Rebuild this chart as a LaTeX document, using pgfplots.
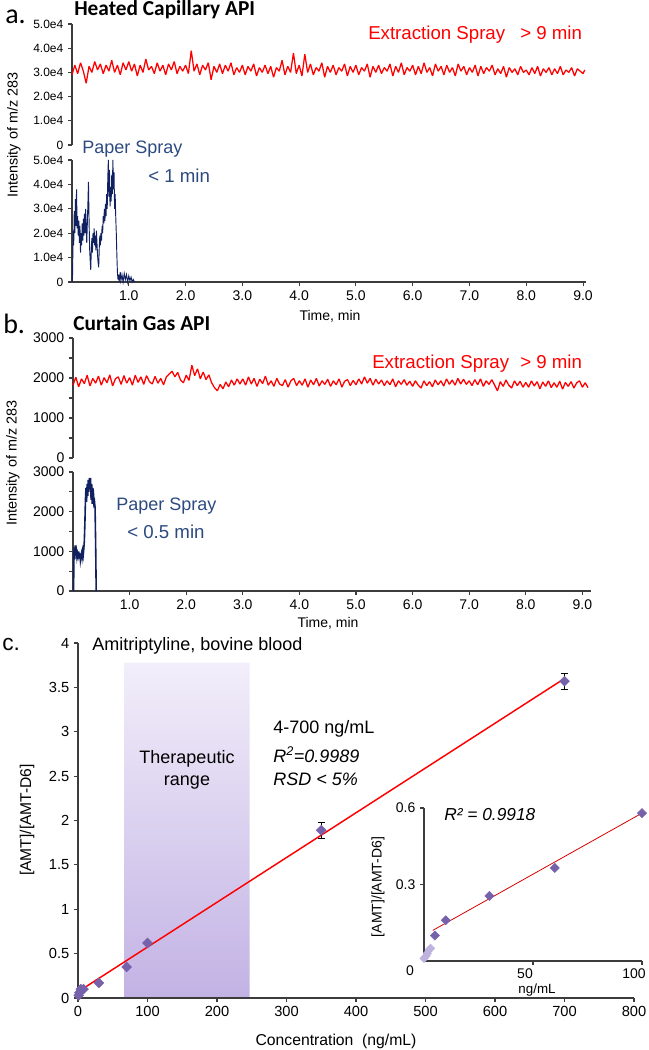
\documentclass[border=0pt]{standalone}
\usepackage{pgfplots}
\pgfplotsset{compat=1.18}
\usepackage{fontspec}
\setmainfont{Liberation Sans}
\newfontfamily\calibri{Carlito}
\definecolor{spred}{RGB}{255,0,0}
\definecolor{navy}{RGB}{16,32,96}
\definecolor{psblue}{RGB}{44,74,128}
\definecolor{dia}{RGB}{118,98,170}
\definecolor{dialight}{RGB}{192,178,222}
\definecolor{bandtop}{RGB}{242,238,250}
\definecolor{bandbot}{RGB}{194,178,228}
\definecolor{axgray}{RGB}{60,60,60}
\newcommand\fs[1]{\fontsize{#1}{#1}\selectfont}

\pgfplotsset{
  base/.style={
    scale only axis, anchor=south west, clip=false,
    axis line style={axgray, line width=0.8pt},
    tick style={axgray, line width=0.8pt},
    major tick length=3pt, minor tick length=3pt, tick align=outside,
    /pgf/number format/assume math mode=true,
    ticklabel style={font=\fs{10.5}},
  },
  trace/.style={base, xmin=0, ymin=0,
    xtick={1,2,3,4,5,6,7,8,9},
    xticklabels={1.0,2.0,3.0,4.0,5.0,6.0,7.0,8.0,9.0},
  },
}

\begin{document}
\begin{tikzpicture}
\useasboundingbox (0,0) rectangle (486.75pt,-787.5pt);

% ---------- a. heated capillary ----------
\begin{axis}[trace, at={(54pt,-108.75pt)}, width=385.4pt, height=90.75pt,
  xmax=9.05, ymax=5, axis x line=none, axis y line*=left,
  ytick={0,1,2,3,4,5}, yticklabels={0,1.0e4,2.0e4,3.0e4,4.0e4,5.0e4},
  yticklabel style={font=\fs{9}}]
\addplot[spred, line width=0.95pt, line join=bevel] coordinates {
(0,2.90)(0.05,3.30)(0.1,2.95)(0.15,3.40)(0.2,3.05)(0.25,2.55)(0.3,3.25)(0.35,3.00)(0.4,3.45)(0.45,3.10)
(0.5,3.35)(0.55,2.95)(0.6,3.30)(0.65,3.05)(0.7,3.50)(0.75,3.00)(0.8,3.30)(0.85,2.90)(0.9,3.40)(0.95,3.10)
(1,3.45)(1.05,3.05)(1.1,3.35)(1.15,2.85)(1.2,3.30)(1.25,3.00)(1.3,3.55)(1.35,3.10)(1.4,3.25)(1.45,2.95)
(1.5,3.40)(1.55,3.05)(1.6,3.30)(1.65,2.90)(1.7,3.35)(1.75,3.10)(1.8,3.45)(1.85,2.95)(1.9,3.25)(1.95,3.05)
(2,3.30)(2.05,2.95)(2.1,3.90)(2.15,3.05)(2.2,3.35)(2.25,2.90)(2.3,3.30)(2.35,3.10)(2.4,3.40)(2.45,2.70)
(2.5,3.25)(2.55,3.00)(2.6,3.35)(2.65,2.95)(2.7,3.30)(2.75,3.05)(2.8,3.40)(2.85,2.90)(2.9,3.20)(2.95,3.00)
(3,3.30)(3.05,2.90)(3.1,3.25)(3.15,3.05)(3.2,3.35)(3.25,2.85)(3.3,3.20)(3.35,3.00)(3.4,3.30)(3.45,2.95)
(3.5,3.25)(3.55,2.80)(3.6,3.20)(3.65,3.05)(3.7,3.50)(3.75,2.90)(3.8,3.25)(3.85,3.00)(3.9,3.80)(3.95,2.95)
(4,3.30)(4.05,2.85)(4.1,3.75)(4.15,3.00)(4.2,3.35)(4.25,2.90)(4.3,3.20)(4.35,3.05)(4.4,3.40)(4.45,2.80)
(4.5,3.25)(4.55,3.00)(4.6,3.30)(4.65,2.90)(4.7,3.20)(4.75,3.05)(4.8,3.35)(4.85,2.85)(4.9,3.25)(4.95,3.00)
(5,3.30)(5.05,2.90)(5.1,3.20)(5.15,3.05)(5.2,3.35)(5.25,2.80)(5.3,3.25)(5.35,3.00)(5.4,3.30)(5.45,2.95)
(5.5,3.20)(5.55,3.05)(5.6,3.35)(5.65,2.85)(5.7,3.25)(5.75,3.00)(5.8,3.40)(5.85,2.90)(5.9,3.20)(5.95,3.05)
(6,3.30)(6.05,2.90)(6.1,3.25)(6.15,2.95)(6.2,3.40)(6.25,3.00)(6.3,3.20)(6.35,2.85)(6.4,3.35)(6.45,3.05)
(6.5,3.25)(6.55,2.90)(6.6,3.30)(6.65,3.00)(6.7,3.20)(6.75,2.85)(6.8,3.35)(6.85,3.05)(6.9,3.25)(6.95,2.90)
(7,3.20)(7.05,3.00)(7.1,3.30)(7.15,2.85)(7.2,3.25)(7.25,2.95)(7.3,3.20)(7.35,3.05)(7.4,3.30)(7.45,2.90)
(7.5,3.15)(7.55,2.95)(7.6,3.25)(7.65,2.80)(7.7,3.20)(7.75,3.00)(7.8,3.15)(7.85,2.90)(7.9,3.25)(7.95,3.00)
(8,3.10)(8.05,2.90)(8.1,3.20)(8.15,2.95)(8.2,3.25)(8.25,2.85)(8.3,3.15)(8.35,3.00)(8.4,3.20)(8.45,2.90)
(8.5,3.15)(8.55,2.95)(8.6,3.25)(8.65,2.90)(8.7,3.10)(8.75,3.00)(8.8,3.20)(8.85,2.85)(8.9,3.15)(8.95,3.05)
(9,2.95)(9.03,3.10)
};
\end{axis}

\begin{axis}[trace, at={(54pt,-211.5pt)}, width=385.4pt, height=91.5pt,
  xmax=9.05, ymax=5, axis x line*=bottom, axis y line*=left,
  ytick={0,1,2,3,4,5}, yticklabels={0,1.0e4,2.0e4,3.0e4,4.0e4,5.0e4},
  yticklabel style={font=\fs{9}}]
\addplot[navy, line width=0.7pt] coordinates {
(0,0)(0.01,0.3)(0.02,2.1)(0.03,1.5)(0.04,2.9)(0.05,2.0)(0.06,3.4)(0.07,2.3)(0.08,3.8)(0.09,2.2)
(0.10,2.7)(0.11,1.9)(0.12,2.5)(0.13,1.6)(0.14,2.3)(0.15,1.2)(0.16,2.0)(0.17,1.5)(0.18,2.4)(0.19,1.7)
(0.20,2.6)(0.21,1.9)(0.22,2.8)(0.23,2.0)(0.24,3.0)(0.25,2.2)(0.26,1.6)(0.27,2.4)(0.28,3.2)(0.29,4.1)
(0.30,2.6)(0.31,1.4)(0.32,0.9)(0.33,0.5)(0.34,1.3)(0.35,1.8)(0.36,1.2)(0.37,2.0)(0.38,1.6)(0.39,2.2)
(0.40,1.5)(0.41,1.9)(0.42,1.3)(0.43,2.1)(0.44,1.6)(0.45,1.1)(0.46,0.8)(0.47,0.6)(0.48,1.4)(0.49,1.9)
(0.50,1.5)(0.51,2.0)(0.52,1.7)(0.53,2.3)(0.54,2.0)(0.55,2.7)(0.56,2.4)(0.57,3.0)(0.58,2.5)(0.59,3.2)
(0.60,2.7)(0.61,3.6)(0.62,3.0)(0.63,4.2)(0.64,5.0)(0.65,3.5)(0.66,4.6)(0.67,3.1)(0.68,3.9)(0.69,3.3)
(0.70,4.4)(0.71,3.6)(0.72,5.0)(0.73,3.8)(0.74,4.5)(0.75,3.0)(0.76,3.6)(0.77,2.7)(0.78,2.0)(0.79,1.1)
(0.80,0.4)(0.81,0.1)(0.82,0.3)(0.83,0.0)(0.84,0.2)(0.85,0.4)(0.86,0.05)(0.88,0.3)(0.90,0.0)(0.92,0.35)
(0.94,0.1)(0.96,0.3)(0.98,0.0)(1.00,0.25)(1.02,0.05)(1.04,0.2)(1.06,0.0)(1.08,0.1)(1.10,0.0)
};
\end{axis}

% ---------- b. curtain gas ----------
\begin{axis}[trace, at={(54.75pt,-343.5pt)}, width=388.4pt, height=90pt,
  xmax=9.15, ymax=3000, axis x line=none, axis y line*=left,
  ytick={0,1000,2000,3000}, yticklabels={0,1000,2000,3000},
  minor ytick={500,1500,2500}]
\addplot[spred, line width=0.95pt, line join=bevel] coordinates {
(0,1820)(0.05,2020)(0.1,1780)(0.15,1980)(0.2,1860)(0.25,2070)(0.3,1800)(0.35,1990)(0.4,1870)(0.45,2050)
(0.5,1820)(0.55,2010)(0.6,1880)(0.65,2080)(0.7,1800)(0.75,1980)(0.8,2030)(0.85,1840)(0.9,2060)(0.95,1870)
(1,2010)(1.05,1820)(1.1,2070)(1.15,1890)(1.2,2030)(1.25,1840)(1.3,2060)(1.35,1910)(1.4,1850)(1.45,2040)
(1.5,1870)(1.55,1990)(1.6,1830)(1.65,2030)(1.7,2100)(1.75,2170)(1.8,2030)(1.85,2140)(1.9,1950)(1.95,1880)
(2,2070)(2.05,1940)(2.1,2320)(2.15,2060)(2.2,2230)(2.25,1980)(2.3,2150)(2.35,1960)(2.4,2080)(2.45,1880)
(2.5,1760)(2.55,1680)(2.6,1840)(2.65,1730)(2.7,1900)(2.75,1780)(2.8,1950)(2.85,1820)(2.9,1980)(2.95,1850)
(3,1980)(3.05,1820)(3.1,2030)(3.15,1850)(3.2,1990)(3.25,1790)(3.3,1970)(3.35,1860)(3.4,2050)(3.45,1820)
(3.5,1930)(3.55,1790)(3.6,1990)(3.65,1850)(3.7,1810)(3.75,1960)(3.8,1770)(3.85,1930)(3.9,1990)(3.95,1810)
(4,1930)(4.05,1820)(4.1,1980)(4.15,1770)(4.2,1950)(4.25,1830)(4.3,1990)(4.35,1800)(4.4,1930)(4.45,1840)
(4.5,1970)(4.55,1790)(4.6,1930)(4.65,1830)(4.7,1980)(4.75,1770)(4.8,1920)(4.85,1960)(4.9,1810)(4.95,1940)
(5,1830)(5.05,1980)(5.1,1850)(5.15,2030)(5.2,1870)(5.25,1990)(5.3,1820)(5.35,1970)(5.4,1850)(5.45,1950)
(5.5,1810)(5.55,1930)(5.6,1830)(5.65,1980)(5.7,1780)(5.75,1930)(5.8,1840)(5.85,1960)(5.9,1820)(5.95,1920)
(6,1790)(6.05,1930)(6.1,1820)(6.15,1750)(6.2,1930)(6.25,1810)(6.3,1910)(6.35,1780)(6.4,1950)(6.45,1830)
(6.5,1930)(6.55,1800)(6.6,1980)(6.65,1840)(6.7,1950)(6.75,1820)(6.8,1990)(6.85,1850)(6.9,1970)(6.95,1840)
(7,1930)(7.05,1810)(7.1,1960)(7.15,1830)(7.2,1980)(7.25,1790)(7.3,1930)(7.35,1840)(7.4,1960)(7.45,1820)
(7.5,1680)(7.55,1910)(7.6,1790)(7.65,1950)(7.7,1820)(7.75,1750)(7.8,1930)(7.85,1810)(7.9,1920)(7.95,1770)
(8,1890)(8.05,1770)(8.1,1930)(8.15,1800)(8.2,1910)(8.25,1730)(8.3,1900)(8.35,1790)(8.4,1930)(8.45,1760)
(8.5,1880)(8.55,1770)(8.6,1920)(8.65,1720)(8.7,1890)(8.75,1790)(8.8,1910)(8.85,1750)(8.9,1880)(8.95,1930)
(9,1770)(9.05,1880)(9.1,1760)
};
\end{axis}

\begin{axis}[trace, at={(54.75pt,-443.25pt)}, width=388.4pt, height=89.25pt,
  xmax=9.15, ymax=3000, axis x line*=bottom, axis y line*=left,
  ytick={0,1000,2000,3000}, yticklabels={0,1000,2000,3000},
  minor ytick={500,1500,2500}]
\addplot[navy, line width=1.2pt] coordinates {
(0.01,0)(0.015,700)(0.02,1100)(0.03,800)(0.04,1150)(0.05,900)(0.06,1000)(0.07,850)(0.08,950)(0.09,880)
(0.10,1000)(0.11,820)(0.12,950)(0.13,780)(0.14,900)(0.15,960)(0.16,850)(0.17,1000)(0.18,900)(0.19,1050)
(0.20,1250)(0.21,1700)(0.22,2300)(0.23,2600)(0.24,2250)(0.25,2700)(0.26,2400)(0.27,2800)(0.28,2500)(0.29,2850)
(0.30,2600)(0.31,2850)(0.32,2300)(0.33,2700)(0.34,2200)(0.35,2600)(0.36,2500)(0.37,2200)(0.38,2250)(0.39,2100)
(0.40,1200)(0.41,0)
};
\end{axis}

% ---------- c. calibration ----------
\begin{axis}[base, at={(58.5pt,-748.5pt)}, width=417pt, height=266.25pt,
  xmin=0, xmax=800, ymin=0, ymax=4, axis x line*=bottom, axis y line*=left,
  axis on top,
  xtick={0,100,200,300,400,500,600,700,800},
  ytick={0,0.5,1,1.5,2,2.5,3,3.5,4},
  yticklabels={0,0.5,1,1.5,2,2.5,3,3.5,4},
  ticklabel style={font=\fs{11}}]
\addplot[draw=none, top color=bandtop, bottom color=bandbot] coordinates {
(67,0)(67,3.78)(247,3.78)(247,0)} \closedcycle;
\addplot[red, line width=1.1pt] coordinates {(0,0.07)(700,3.60)};
\addplot[only marks, mark=square*, mark size=2.6pt,
  mark options={rotate=45, fill=dia, draw=dia}] coordinates {
(1,0.03)(2,0.06)(4,0.10)(8,0.10)(30,0.17)(70,0.35)(100,0.62)};
\addplot[only marks, mark=square*, mark size=2.6pt,
  mark options={rotate=45, fill=dia, draw=dia},
  error bars/.cd, y dir=both, y explicit,
  error bar style={black, line width=0.6pt},
  error mark options={black, line width=0.6pt, mark size=2.5pt, rotate=90}] coordinates {
(350,1.89) +- (0,0.09)
(700,3.57) +- (0,0.09)};
\end{axis}

% inset
\begin{axis}[base, at={(318pt,-720.75pt)}, width=163.5pt, height=114.75pt,
  xmin=0, xmax=100, ymin=0, ymax=0.6, axis x line*=bottom, axis y line*=left,
  xtick={50,100}, xticklabels={50,100}, ytick={0.3,0.6}, yticklabels={0.3,0.6},
  xticklabel style={xshift=-6pt, yshift=1pt}]
\addplot[red!85!black, line width=0.6pt] coordinates {(4,0.12)(100,0.58)};
\addplot[only marks, mark=square*, mark size=2.2pt,
  mark options={rotate=45, fill=dialight, draw=dialight}] coordinates {
(0,0.01)(1,0.02)(1.5,0.03)(2.5,0.045)(3,0.05)};
\addplot[only marks, mark=square*, mark size=2.4pt,
  mark options={rotate=45, fill=dia, draw=dia}] coordinates {
(5,0.10)(10,0.16)(30,0.255)(60,0.365)(100,0.58)};
\end{axis}

% ---------- labels ----------
\begin{scope}[x=0.75pt, y=-0.75pt]
\node[anchor=base west, inner sep=0] at (5,23) {\calibri\fs{21}a.};
\node[anchor=base west, inner sep=0] at (74,15) {\calibri\bfseries\fs{16}Heated Capillary API};
\node[anchor=base west, inner sep=0, text=spred] at (368,39) {\fs{14}Extraction Spray};
\node[anchor=base west, inner sep=0, text=spred] at (520,39) {\fs{14}> 9 min};
\node[anchor=base west, inner sep=0, text=psblue] at (82,153) {\fs{13.5}Paper Spray};
\node[anchor=base west, inner sep=0, text=psblue] at (148,182) {\fs{14}< 1 min};
\node[anchor=base, inner sep=0] at (330,320) {\fs{10.5}Time, min};
\node[rotate=90, inner sep=0] at (14,135) {\fs{10.8}Intensity of m/z 283};

\node[anchor=base west, inner sep=0] at (3,333) {\calibri\fs{21}b.};
\node[anchor=base west, inner sep=0] at (73,330) {\calibri\bfseries\fs{16}Curtain Gas API};
\node[anchor=base west, inner sep=0, text=spred] at (372,368) {\fs{14}Extraction Spray};
\node[anchor=base west, inner sep=0, text=spred] at (520,368) {\fs{14}> 9 min};
\node[anchor=base west, inner sep=0, text=psblue] at (116,510) {\fs{13.5}Paper Spray};
\node[anchor=base west, inner sep=0, text=psblue] at (127,538) {\fs{14}< 0.5 min};
\node[anchor=base, inner sep=0] at (328,627) {\fs{10.5}Time, min};
\node[rotate=90, inner sep=0] at (13,463) {\fs{10.8}Intensity of m/z 283};

\node[anchor=base west, inner sep=0] at (2,650) {\fs{17}c.};
\node[anchor=base west, inner sep=0] at (92,650) {\fs{13.5}Amitriptyline, bovine blood};
\node[anchor=base, inner sep=0] at (187,763) {\fs{13.5}Therapeutic};
\node[anchor=base, inner sep=0] at (187,785) {\fs{13.5}range};
\node[anchor=base west, inner sep=0] at (273,733) {\fs{13.5}4-700 ng/mL};
\node[anchor=base west, inner sep=0] at (273,762) {\fs{13.5}\itshape R\textsuperscript{2}=0.9989};
\node[anchor=base west, inner sep=0] at (273,785) {\fs{13.5}\itshape RSD < 5\%};
\node[anchor=base west, inner sep=0] at (444,820) {\fs{13}\itshape R² = 0.9918};
\node[anchor=base, inner sep=0] at (537,993) {\fs{10}ng/mL};
\node[inner sep=0] at (410,971) {\fs{10.5}0};
\node[rotate=90, inner sep=0] at (378,887) {\fs{10.5}[AMT]/[AMT-D6]};
\node[rotate=90, inner sep=0] at (27,820) {\fs{11.7}[AMT]/[AMT-D6]};
\node[anchor=base, inner sep=0] at (336,1045) {\fs{11.8}Concentration\ \ (ng/mL)};
\end{scope}
\end{tikzpicture}
\end{document}
